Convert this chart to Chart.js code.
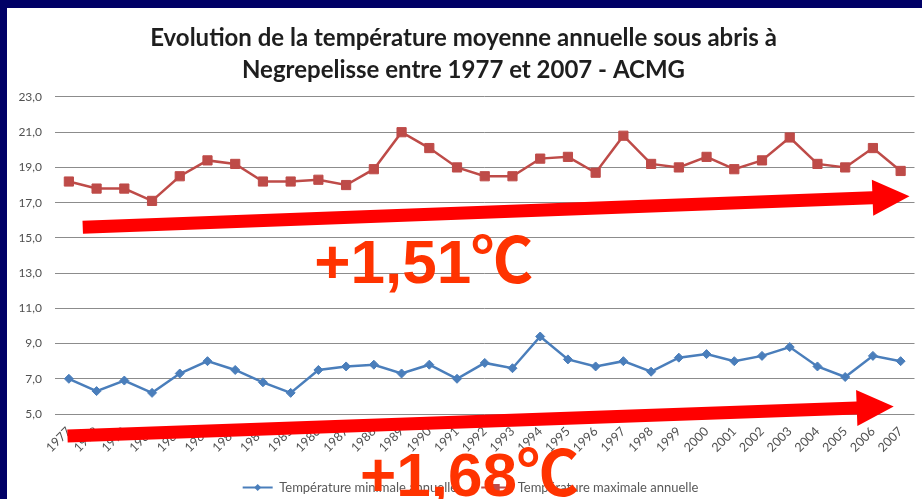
<!DOCTYPE html>
<html><head><meta charset="utf-8">
<script src="https://cdn.jsdelivr.net/npm/chart.js@4/dist/chart.umd.min.js"></script>
<style>html,body{margin:0;padding:0;background:#000066;overflow:hidden}
#wrap{width:922px;height:499px;position:relative}</style></head>
<body><div id="wrap"><canvas id="c" width="922" height="499"></canvas></div>
<script>
const years = ['1977','1978','1979','1980','1981','1982','1983','1984','1985','1986','1987','1988','1989','1990','1991','1992','1993','1994','1995','1996','1997','1998','1999','2000','2001','2002','2003','2004','2005','2006','2007'];
const tempMin = [7.0,6.3,6.9,6.2,7.3,8.0,7.5,6.8,6.2,7.5,7.7,7.8,7.3,7.8,7.0,7.9,7.6,9.4,8.1,7.7,8.0,7.4,8.2,8.4,8.0,8.3,8.8,7.7,7.1,8.3,8.0];
const tempMax = [18.2,17.8,17.8,17.1,18.5,19.4,19.2,18.2,18.2,18.3,18.0,18.9,21.0,20.1,19.0,18.5,18.5,19.5,19.6,18.7,20.8,19.2,19.0,19.6,18.9,19.4,20.7,19.2,19.0,20.1,18.8];
const seriesNames = ['Température minimale annuelle','Température maximale annuelle'];
const titleLines = ['Evolution de la température moyenne annuelle sous abris à','Negrepelisse entre 1977 et 2007 - ACMG'];
const yMin = 5, yMax = 23, yStep = 2;
// trend annotations (in category-index / value space)
const trendArrows = [
  {from:[0.5,15.6], to:[30.32,17.36]},
  {from:[-0.05,3.75], to:[29.75,5.42]}
];
const trendTexts = [
  {text:'+1,51℃', at:[8.85,12.43]},
  {text:'+1,68℃', at:[10.5,0.32]}
];

const FONT = 'Lato, "Liberation Sans", sans-serif';

function drawArrow(ctx,x0,y0,x1,y1,shaft,headLen,headHalf){
  const ang=Math.atan2(y1-y0,x1-x0), L=Math.hypot(x1-x0,y1-y0);
  ctx.save(); ctx.translate(x0,y0); ctx.rotate(ang);
  ctx.beginPath();
  ctx.moveTo(0,-shaft/2); ctx.lineTo(L-headLen,-shaft/2); ctx.lineTo(L-headLen,-headHalf);
  ctx.lineTo(L,0); ctx.lineTo(L-headLen,headHalf); ctx.lineTo(L-headLen,shaft/2); ctx.lineTo(0,shaft/2);
  ctx.closePath(); ctx.fill(); ctx.restore();
}

const decor = {
  id:'decor',
  beforeDraw(chart){
    const {ctx,width,height}=chart;
    ctx.save();
    ctx.fillStyle='#000066'; ctx.fillRect(0,0,width,height);
    ctx.fillStyle='#ffffff'; ctx.fillRect(7,8,width-7,height-8);
    ctx.restore();
  },
  afterDraw(chart){
    const {ctx}=chart; const xs=chart.scales.x, ys=chart.scales.y;
    const lg=chart.legend;
    ctx.save();
    (lg.legendHitBoxes||[]).forEach((hb,i)=>{
      const ds=chart.data.datasets[i];
      const cy=hb.top+hb.height/2;
      const x0=hb.left+14, x1=hb.left+44, xm=(x0+x1)/2;
      ctx.strokeStyle=ds.borderColor; ctx.lineWidth=2;
      ctx.beginPath(); ctx.moveTo(x0,cy); ctx.lineTo(x1,cy); ctx.stroke();
      ctx.fillStyle=ds.pointBackgroundColor;
      ctx.beginPath();
      if(ds.pointStyle==='rect'){ ctx.rect(xm-3.5,cy-3.5,7,7); }
      else { ctx.moveTo(xm-3.5,cy); ctx.lineTo(xm,cy-3.5); ctx.lineTo(xm+3.5,cy); ctx.lineTo(xm,cy+3.5); ctx.closePath(); }
      ctx.fill();
    });
    ctx.fillStyle='#ff0000';
    trendArrows.forEach(a=>{
      drawArrow(ctx, xs.getPixelForValue(a.from[0]), ys.getPixelForValue(a.from[1]),
                xs.getPixelForValue(a.to[0]), ys.getPixelForValue(a.to[1]), 13, 37, 18);
    });
    ctx.fillStyle='#ff3300';
    ctx.font='bold 62px "Liberation Sans", "Noto Sans CJK SC", sans-serif';
    ctx.textAlign='left'; ctx.textBaseline='alphabetic';
    trendTexts.forEach(t=>{
      ctx.fillText(t.text, xs.getPixelForValue(t.at[0]), ys.getPixelForValue(t.at[1]));
    });
    ctx.restore();
  }
};

new Chart(document.getElementById('c'), {
  type:'line',
  data:{
    labels: years,
    datasets:[
      {label:seriesNames[0], data:tempMin, borderColor:'#4a7ebb', backgroundColor:'#4a7ebb', pointBackgroundColor:'#4a7ebb', pointBorderColor:'#4a7ebb',
       pointStyle:'rectRot', pointRadius:4.5, pointBorderWidth:1, borderWidth:2.5, tension:0},
      {label:seriesNames[1], data:tempMax, borderColor:'#be4b48', backgroundColor:'#be4b48', pointBackgroundColor:'#be4b48', pointBorderColor:'#be4b48',
       pointStyle:'rect', pointRadius:6.5, pointBorderWidth:1, borderWidth:2.5, tension:0}
    ]
  },
  options:{
    responsive:false, animation:false, devicePixelRatio:1,
    layout:{padding:{top:8,left:7,right:2,bottom:-5}},
    plugins:{
      title:{display:true, text:titleLines, color:'#1e1e1e', font:{family:FONT,size:24,weight:'bold',lineHeight:1.333}, padding:{top:14,bottom:11}},
      legend:{display:true, position:'bottom', labels:{font:{family:FONT,size:13}, color:'#595959', boxWidth:44, boxHeight:12, padding:10,
        generateLabels(chart){ return chart.data.datasets.map((d,i)=>({text:d.label, fillStyle:'rgba(0,0,0,0)', strokeStyle:'rgba(0,0,0,0)', lineWidth:0, hidden:false, datasetIndex:i, fontColor:'#595959'})); }}},
      tooltip:{enabled:false}
    },
    scales:{
      x:{offset:true, grid:{display:false, drawTicks:false}, border:{display:false},
         ticks:{font:{family:FONT,size:12.5}, color:'#505050', minRotation:45, maxRotation:45, autoSkip:false, padding:10},
         afterFit(s){ s.height=57; s.paddingLeft=0; s.paddingRight=0; }},
      y:{min:yMin, max:yMax, grid:{color:'#8c8c8c', lineWidth:1, drawTicks:false}, border:{display:false},
         ticks:{stepSize:yStep, font:{family:FONT,size:12}, color:'#505050', padding:13,
           callback:v=>v.toFixed(1).replace('.',',')},
         afterFit(s){ s.width=48; }}
    }
  },
  plugins:[decor]
});
</script></body></html>
